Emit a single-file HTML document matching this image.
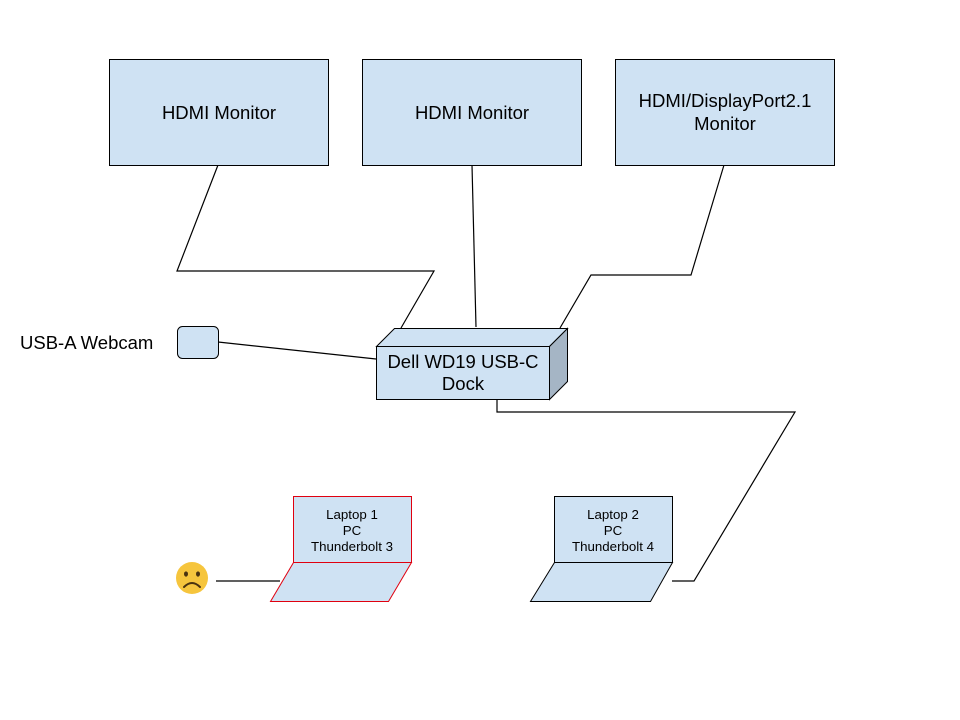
<!DOCTYPE html>
<html><head><meta charset="utf-8"><style>
html,body{margin:0;padding:0;background:#fff;}
svg{display:block;}
text{font-family:"Liberation Sans",Arial,sans-serif;fill:#000;}
</style></head><body>
<svg width="960" height="720" viewBox="0 0 960 720" xmlns="http://www.w3.org/2000/svg">
<rect width="960" height="720" fill="#fff"/>
<g fill="none" stroke="#000" stroke-width="1.2">
<polyline points="218,165 177,271 434,271 401,328"/>
<polyline points="472,165 476,327"/>
<polyline points="724,165 691,275 591,275 560,328"/>
<polyline points="218,342 376,359"/>
<polyline points="497,399 497,412 795,412 694,581 672,581"/>
<polyline points="216,581 280,581"/>
</g>
<g fill="#cfe2f3" stroke="#000" stroke-width="1">
<rect x="109.5" y="59.5" width="219" height="106"/>
<rect x="362.5" y="59.5" width="219" height="106"/>
<rect x="615.5" y="59.5" width="219" height="106"/>
<rect x="177.5" y="326.5" width="41" height="32" rx="5"/>
<polygon points="376.5,346.5 394.5,328.5 567.5,328.5 549.5,346.5"/>
<polygon points="549.5,346.5 567.5,328.5 567.5,381.5 549.5,399.5" fill="#a5b5c5"/>
<rect x="376.5" y="346.5" width="173" height="53"/>
<rect x="554.5" y="496.5" width="118" height="66"/>
<polygon points="554.5,562.5 672.5,562.5 650.5,601.5 530.5,601.5"/>
</g>
<g fill="#cfe2f3" stroke="#e0000f" stroke-width="1">
<rect x="293.5" y="496.5" width="118" height="66"/>
<polygon points="293.5,562.5 411.5,562.5 388.5,601.5 270.5,601.5"/>
</g>
<g font-size="18.5" text-anchor="middle">
<text x="219" y="119">HDMI Monitor</text>
<text x="472" y="119">HDMI Monitor</text>
<text x="725" y="107">HDMI/DisplayPort2.1</text>
<text x="725" y="130">Monitor</text>
<text x="463" y="368">Dell WD19 USB-C</text>
<text x="463" y="390">Dock</text>
</g>
<text x="20" y="349" font-size="18.5">USB-A Webcam</text>
<g font-size="13.3" text-anchor="middle">
<text x="352" y="519">Laptop 1</text>
<text x="352" y="535">PC</text>
<text x="352" y="551">Thunderbolt 3</text>
<text x="613" y="519">Laptop 2</text>
<text x="613" y="535">PC</text>
<text x="613" y="551">Thunderbolt 4</text>
</g>
<g>
<circle cx="192" cy="578" r="16" fill="#f6c53d"/>
<ellipse cx="186" cy="574" rx="2" ry="2.6" fill="#4a3310"/>
<ellipse cx="198" cy="574" rx="2" ry="2.6" fill="#4a3310"/>
<path d="M184,587 Q192,579 200,587" fill="none" stroke="#4a3310" stroke-width="2" stroke-linecap="round"/>
</g>
</svg>
</body></html>
